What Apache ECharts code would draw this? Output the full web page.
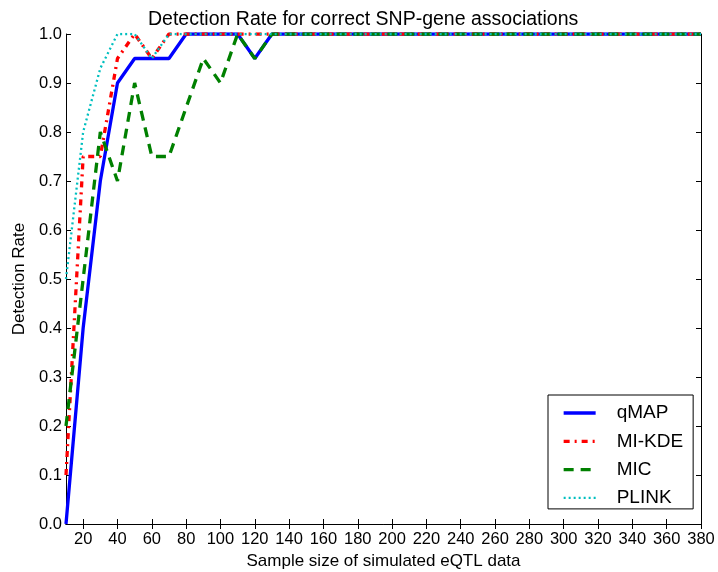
<!DOCTYPE html>
<html>
<head>
    <meta http-equiv="Content-Type" content="text/html; charset=UTF-8">
    <title>Detection Rate</title>
    <script src="https://cdn.jsdelivr.net/npm/echarts@6/dist/echarts.min.js"></script>
    <style>
        html, body { margin: 0; padding: 0; background: #fff; }
    </style>
</head>
<body>
<div id="chart" style="width: 718px; height: 572px;"></div>

<script type="text/javascript">
    // sample sizes of simulated eQTL data
    var sizes = [10, 20, 30, 40, 50, 60, 70, 80, 90, 100, 110, 120, 130, 140, 150, 160, 170, 180, 190,
        200, 210, 220, 230, 240, 250, 260, 270, 280, 290, 300, 310, 320, 330, 340, 350, 360, 370, 380];

    var qmap = [0.0, 0.4, 0.7, 0.9, 0.95, 0.95, 0.95, 1.0, 1.0, 1.0, 1.0, 0.95, 1.0, 1.0, 1.0, 1.0, 1.0, 1.0, 1.0,
        1.0, 1.0, 1.0, 1.0, 1.0, 1.0, 1.0, 1.0, 1.0, 1.0, 1.0, 1.0, 1.0, 1.0, 1.0, 1.0, 1.0, 1.0, 1.0];
    var mikde = [0.1, 0.75, 0.75, 0.95, 1.0, 0.95, 1.0, 1.0, 1.0, 1.0, 1.0, 1.0, 1.0, 1.0, 1.0, 1.0, 1.0, 1.0, 1.0,
        1.0, 1.0, 1.0, 1.0, 1.0, 1.0, 1.0, 1.0, 1.0, 1.0, 1.0, 1.0, 1.0, 1.0, 1.0, 1.0, 1.0, 1.0, 1.0];
    var mic = [0.2, 0.5, 0.8, 0.7, 0.9, 0.75, 0.75, 0.85, 0.95, 0.9, 1.0, 0.95, 1.0, 1.0, 1.0, 1.0, 1.0, 1.0, 1.0,
        1.0, 1.0, 1.0, 1.0, 1.0, 1.0, 1.0, 1.0, 1.0, 1.0, 1.0, 1.0, 1.0, 1.0, 1.0, 1.0, 1.0, 1.0, 1.0];
    var plink = [0.5, 0.8, 0.93, 1.0, 1.0, 0.95, 1.0, 1.0, 1.0, 1.0, 1.0, 1.0, 1.0, 1.0, 1.0, 1.0, 1.0, 1.0, 1.0,
        1.0, 1.0, 1.0, 1.0, 1.0, 1.0, 1.0, 1.0, 1.0, 1.0, 1.0, 1.0, 1.0, 1.0, 1.0, 1.0, 1.0, 1.0, 1.0];

    var xTicks = [20, 40, 60, 80, 100, 120, 140, 160, 180, 200, 220, 240, 260, 280, 300, 320, 340, 360, 380];

    var font = 'Liberation Sans, Arial, sans-serif';

    function pairs(ys) {
        var res = [];
        for (var i = 0; i < sizes.length; i++) {
            res.push([sizes[i], ys[i]]);
        }
        return res;
    }

    function lineSeries(name, ys, color, width, type) {
        return {
            name: name,
            type: 'line',
            xAxisIndex: 0,
            yAxisIndex: 0,
            symbol: 'none',
            animation: false,
            lineStyle: {color: color, width: width, type: type},
            itemStyle: {color: color},
            data: pairs(ys)
        };
    }

    var chart = echarts.init(document.getElementById('chart'));

    chart.setOption({
        backgroundColor: '#fff',
        animation: false,
        title: {
            text: 'Detection Rate for correct SNP-gene associations',
            left: 143,
            top: 5,
            textStyle: {fontFamily: font, fontSize: 19.5, fontWeight: 'normal', color: '#000'}
        },
        grid: {left: 66, right: 17, top: 34, bottom: 48, outerBoundsMode: 'none'},
        legend: {
            orient: 'vertical',
            left: 548,
            top: 395,
            padding: [8, 10, 1, 14],
            itemGap: 8.3,
            itemWidth: 32,
            itemHeight: 20,
            borderColor: '#000',
            borderWidth: 1,
            itemStyle: {opacity: 0},
            textStyle: {fontFamily: font, fontSize: 19, color: '#000', padding: [0, 0, 0, 16], lineHeight: 20},
            data: [
                {name: 'qMAP', lineStyle: {width: 3.3}},
                {name: 'MI-KDE', lineStyle: {width: 3.3}},
                {name: 'MIC', lineStyle: {width: 3.3}},
                {name: 'PLINK', lineStyle: {width: 2.3}}
            ]
        },
        xAxis: [{
            type: 'value',
            min: 10,
            max: 380,
            interval: 10,
            name: 'Sample size of simulated eQTL data',
            nameLocation: 'middle',
            nameGap: 29,
            nameTextStyle: {fontFamily: font, fontSize: 17, color: '#000'},
            axisLine: {lineStyle: {color: '#000', width: 1}},
            axisTick: {inside: true, length: 5, customValues: xTicks, lineStyle: {color: '#000'}},
            axisLabel: {customValues: xTicks, fontFamily: font, fontSize: 16.5, color: '#000', margin: 7},
            splitLine: {show: false}
        }, {
            type: 'value',
            position: 'top',
            min: 10,
            max: 380,
            interval: 10,
            axisLine: {lineStyle: {color: '#000', width: 1}},
            axisTick: {inside: true, length: 5, customValues: xTicks, lineStyle: {color: '#000'}},
            axisLabel: {show: false},
            splitLine: {show: false}
        }],
        yAxis: [{
            type: 'value',
            min: 0,
            max: 1,
            interval: 0.1,
            name: 'Detection Rate',
            nameLocation: 'middle',
            nameGap: 31,
            nameTextStyle: {fontFamily: font, fontSize: 17, color: '#000'},
            axisLine: {show: true, lineStyle: {color: '#000', width: 1}},
            axisTick: {show: true, inside: true, length: 5, lineStyle: {color: '#000'}},
            axisLabel: {
                fontFamily: font, fontSize: 16.5, color: '#000', margin: 4,
                formatter: function (v) { return v.toFixed(1); }
            },
            splitLine: {show: false}
        }, {
            type: 'value',
            position: 'right',
            min: 0,
            max: 1,
            interval: 0.1,
            axisLine: {show: true, lineStyle: {color: '#000', width: 1}},
            axisTick: {show: true, inside: true, length: 5, lineStyle: {color: '#000'}},
            axisLabel: {show: false},
            splitLine: {show: false}
        }],
        series: [
            lineSeries('qMAP', qmap, '#0000ff', 3.3, 'solid'),
            lineSeries('MI-KDE', mikde, '#ff0000', 3.3, [6, 5, 2, 5]),
            lineSeries('MIC', mic, '#008000', 3.3, [10, 7]),
            lineSeries('PLINK', plink, '#00bfbf', 2.3, [2, 3])
        ]
    });
</script>

</body>
</html>
